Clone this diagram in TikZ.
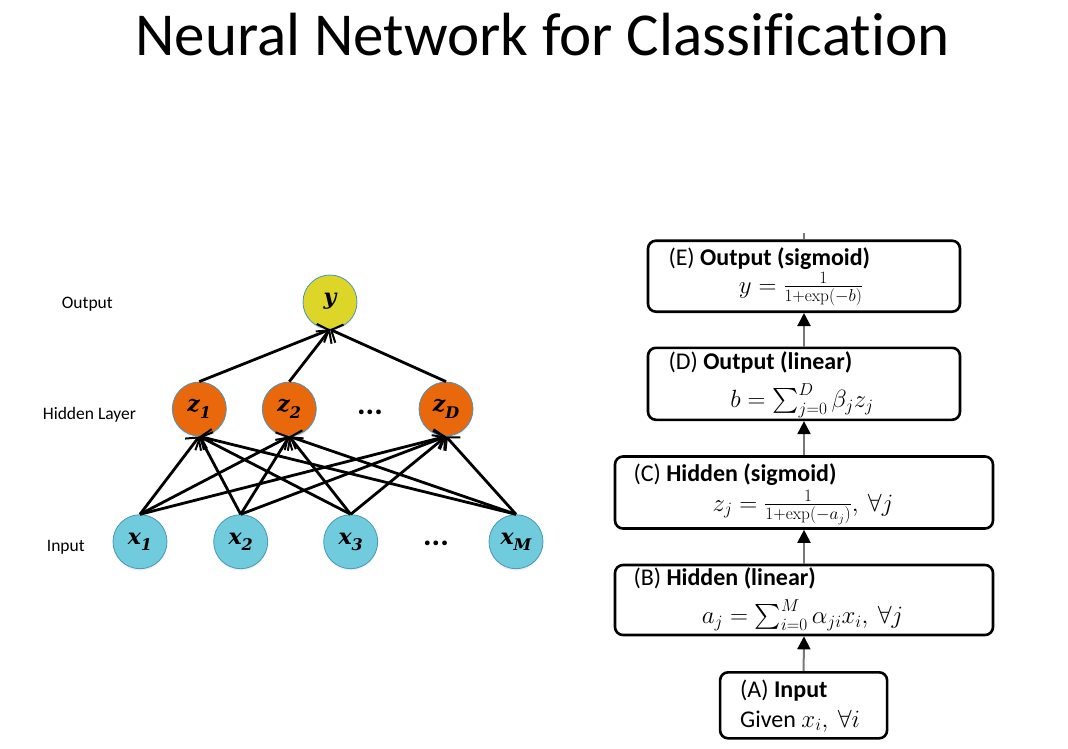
\documentclass[tikz,border=0pt]{standalone}
\usepackage{amsmath}
\usepackage[no-math]{fontspec}
\setmainfont{Carlito}[Ligatures=NoCommon]
\newfontfamily\nodefont{DejaVu Serif}
\usetikzlibrary{arrows.meta,shadows}

\definecolor{outnode}{RGB}{221,214,40}
\definecolor{hidnode}{RGB}{233,104,12}
\definecolor{innode}{RGB}{112,204,221}
\definecolor{rimblue}{RGB}{70,150,190}
\definecolor{linkgray}{RGB}{120,120,120}

\newcommand{\unitlbl}[2]{{\nodefont\bfseries\itshape #1\raisebox{-0.3em}{\fontsize{16}{16}\selectfont #2}}}

\tikzset{
  neuron/.style={circle, minimum size=54pt, inner sep=0pt, draw=rimblue, line width=0.8pt,
    drop shadow={opacity=0.12, shadow xshift=0pt, shadow yshift=-2pt},
    font=\fontsize{22}{22}\selectfont},
  outn/.style={neuron, fill=outnode},
  hidn/.style={neuron, fill=hidnode},
  inn/.style={neuron, fill=innode},
  layerlbl/.style={anchor=base west, inner sep=0pt, font=\fontsize{17.5}{20}\selectfont},
  dotslbl/.style={inner sep=0pt, font=\fontsize{32}{32}\selectfont\bfseries},
  wire/.style={line width=2.8pt, -{Straight Barb[length=9pt, width=20pt, line width=2pt]}},
  stage/.style={draw=black, line width=2.6pt, rounded corners=8pt, inner sep=0pt},
  stagetxt/.style={inner sep=0pt, font=\fontsize{24}{26}\selectfont},
  stagemath/.style={inner sep=0pt, font=\fontsize{23}{25}\selectfont},
  flow/.style={draw=linkgray, line width=2pt, -{Triangle[length=13pt, width=13pt, color=black]}},
}

\begin{document}
\begin{tikzpicture}[x=1pt, y=-1pt]
\useasboundingbox (0,0) rectangle (1068,748);

% title
\node (title) [anchor=base, inner sep=0pt, font=\fontsize{61}{61}\selectfont] at (542.5,55) {Neural Network for Classification};

% ---------- network ----------
\node (lout) [layerlbl] at (61.7,308.3) {Output};
\node (lhid) [layerlbl] at (42.7,419.3) {Hidden Layer};
\node (lin)  [layerlbl] at (46.7,551.7) {Input};

\node (y)  [outn] at (330,302) {\unitlbl{y}{}};
\node (z1) [hidn] at (199.3,409) {\unitlbl{z}{1}};
\node (z2) [hidn] at (289.3,409) {\unitlbl{z}{2}};
\node (zdots) [dotslbl] at (370,412) {...};
\node (zD) [hidn] at (446,409) {\unitlbl{z}{D}};

\node (x1) [inn] at (140,541.7) {\unitlbl{x}{1}};
\node (x2) [inn] at (240.7,541.7) {\unitlbl{x}{2}};
\node (x3) [inn] at (350.7,541.7) {\unitlbl{x}{3}};
\node (xdots) [dotslbl] at (436,543.5) {...};
\node (xM) [inn] at (516,541.7) {\unitlbl{x}{M}};

\foreach \s in {x1,x2,x3,xM}
  \foreach \t in {z1,z2,zD}
    \draw[wire] (\s.north) -- (\t.south);
\foreach \t in {z1,z2,zD}
  \draw[wire] (\t.north) -- (y.south);

% ---------- computation stages ----------
\node (E) [stage, minimum width=312pt, minimum height=71pt] at (804,276.2) {};
\node (D) [stage, minimum width=312pt, minimum height=72pt] at (804,383.8) {};
\node (C) [stage, minimum width=378pt, minimum height=72pt] at (804,492.5) {};
\node (B) [stage, minimum width=378pt, minimum height=70pt] at (804,600) {};
\node (A) [stage, minimum width=167pt, minimum height=66pt] at (803.6,705.3) {};

\node (Et) [stagetxt, anchor=base west] at (668.3,265) {(E) \textbf{Output (sigmoid)}};
\node (Ef) [stagemath, anchor=base] at (801,293) {$y = \frac{1}{1+\exp(-b)}$};

\node (Dt) [stagetxt, anchor=base west] at (668.3,369) {(D) \textbf{Output (linear)}};
\node (Df) [stagemath, anchor=base] at (802,407.5) {$b = \sum_{j=0}^{D} \beta_j z_j$};

\node (Ct) [stagetxt, anchor=base west] at (633.3,481.5) {(C) \textbf{Hidden (sigmoid)}};
\node (Cf) [stagemath, anchor=base] at (803,511) {$z_j = \frac{1}{1+\exp(-a_j)},\ \forall j$};

\node (Bt) [stagetxt, anchor=base west] at (633.3,585.5) {(B) \textbf{Hidden (linear)}};
\node (Bf) [stagemath, anchor=base] at (802.5,623.5) {$a_j = \sum_{i=0}^{M} \alpha_{ji} x_i,\ \forall j$};

\node (At) [stagetxt, anchor=base west] at (740,697) {(A) \textbf{Input}};
\node (Af) [stagetxt, anchor=base west] at (740,727) {Given $x_i,\ \forall i$};

\coordinate (Etop) at (804,233);
\draw[linkgray, line width=2pt] (E.north) -- (Etop);
\draw[flow] (D.north) -- (E.south);
\draw[flow] (C.north) -- (D.south);
\draw[flow] (B.north) -- (C.south);
\draw[flow] (A.north) -- (B.south);
\end{tikzpicture}
\end{document}
